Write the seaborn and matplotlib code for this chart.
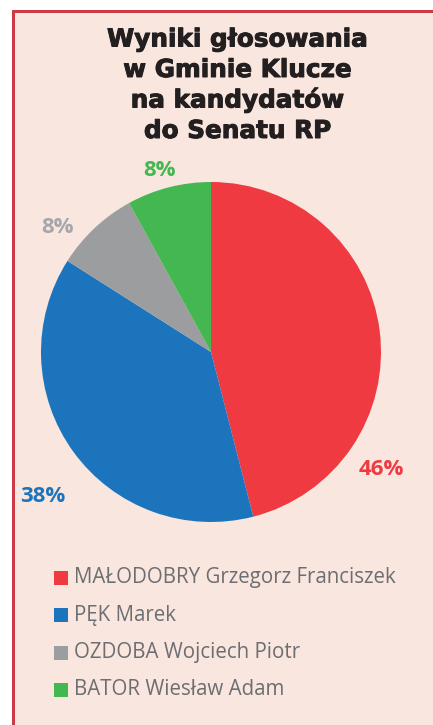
import matplotlib.pyplot as plt
import matplotlib.patheffects as pe
import seaborn as sns
from matplotlib.patches import Rectangle

# Data
candidates = ['MAŁODOBRY Grzegorz Franciszek', 'PĘK Marek',
              'OZDOBA Wojciech Piotr', 'BATOR Wiesław Adam']
shares = [46, 38, 8, 8]
pct_labels = ['46%', '38%', '8%', '8%']
title_lines = ['Wyniki głosowania', 'w Gminie Klucze', 'na kandydatów', 'do Senatu RP']

# Styling
colors = ['#ef3a42', '#1c75bc', '#9b9d9f', '#45b751']
label_colors = ['#ef3a42', '#1c75bc', '#a5a7aa', '#45b751']
label_pos = [(1.0, -0.69), (-0.99, -0.85), (-0.90, 0.73), (-0.30, 1.07)]
bg = '#f8e6df'
border = '#cc3b45'

sns.set_style('white')
plt.rcParams['font.family'] = ['Open Sans', 'DejaVu Sans']

W, H = 433, 725
fig = plt.figure(figsize=(W / 100, H / 100), dpi=100, facecolor='white')

# panel background and red edges (pixel -> figure fractions)
fig.patches.append(Rectangle((12 / W, 0), 1, 1 - 10 / H, transform=fig.transFigure,
                             facecolor=bg, edgecolor='none', zorder=-3))
fig.patches.append(Rectangle((12 / W, 0), 3 / W, 1 - 10 / H, transform=fig.transFigure,
                             facecolor=border, edgecolor='none', zorder=-2))
fig.patches.append(Rectangle((12 / W, 1 - 13 / H), 1, 3 / H, transform=fig.transFigure,
                             facecolor=border, edgecolor='none', zorder=-2))

# title
for i, line in enumerate(title_lines):
    fig.text(238 / W, 1 - (46.5 + i * 30.5) / H, line, ha='center', va='baseline',
             fontsize=17.8, fontweight='bold', family='DejaVu Sans', color='#231f20',
             path_effects=[pe.withStroke(linewidth=0.7, foreground='#231f20')])

# pie
ax = fig.add_axes([41 / W, 1 - 522 / H, 340 / W, 340 / H])
ax.set_facecolor('none')
ax.pie(shares, colors=colors, startangle=90, counterclock=False,
       wedgeprops=dict(linewidth=0))
ax.set_xlim(-1, 1)
ax.set_ylim(-1, 1)
ax.set_aspect('equal')
ax.axis('off')

for txt, col, (x, y) in zip(pct_labels, label_colors, label_pos):
    ax.text(x, y, txt, color=col, ha='center', va='center',
            fontsize=16, fontweight='bold', clip_on=False)

# legend
for i, (name, col) in enumerate(zip(candidates, colors)):
    yc = 578 + i * 37.3
    fig.patches.append(Rectangle((54 / W, 1 - (yc + 7) / H), 14 / W, 14 / H,
                                 transform=fig.transFigure, facecolor=col,
                                 edgecolor='none', zorder=2))
    fig.text(74 / W, 1 - yc / H, name, ha='left', va='center', fontsize=14.8,
             color='#6d6e71')

fig.savefig('out.png', dpi=100, facecolor='white')
